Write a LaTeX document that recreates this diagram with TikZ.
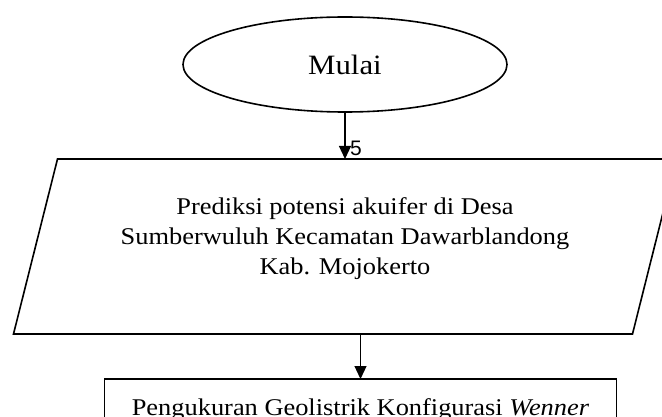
\documentclass[tikz,border=0pt]{standalone}
\usepackage{fontspec}
\setmainfont{Liberation Serif}[FakeStretch=1.1]
\newfontfamily\labelfont{Liberation Sans}
\usepackage{tikz}
\usetikzlibrary{shapes,arrows.meta,positioning,calc,shapes.geometric}

\begin{document}
\begin{tikzpicture}[x=1pt,y=-1pt,
        terminal/.style={draw, ellipse, line width=1.6pt, outer sep=0pt, inner sep=0pt,
              minimum width=324pt, minimum height=95pt, font=\fontsize{28}{34}\selectfont},
        inputbox/.style={rectangle, outer sep=0pt, minimum width=619pt, minimum height=175pt,
              align=center, text depth=20pt, font=\fontsize{24}{30}\selectfont},
        processbox/.style={draw, rectangle, line width=1.6pt, outer sep=0pt,
              minimum width=512pt, minimum height=61pt, font=\fontsize{24}{30}\selectfont},
        flow/.style={-{Triangle[length=13pt,width=12pt]}, line width=1.2pt}]
    \useasboundingbox (0,0) rectangle (662,417);
    \clip (0,0) rectangle (662,417);

    \node[terminal] (mulai) at (345,64.5) {Mulai};
    \node[inputbox, below=47pt of mulai] (prediksi) {
        Prediksi potensi akuifer di Desa\\
        Sumberwuluh Kecamatan Dawarblandong\\
        Kab. Mojokerto
    };
    % parallelogram round the input node
    \draw[line width=1.6pt] ([xshift=22pt]prediksi.north west) -- ([xshift=22pt]prediksi.north east)
        -- ([xshift=-22pt]prediksi.south east) -- ([xshift=-22pt]prediksi.south west) -- cycle;
    \node[processbox, below=45pt of prediksi, xshift=15.5pt] (pengukuran)
        {Pengukuran Geolistrik Konfigurasi \textit{Wenner}};

    \draw[flow] (mulai) -- (prediksi);
    \draw[flow] (prediksi.south -| pengukuran.north) -- (pengukuran.north);
    \node[inner sep=0pt, anchor=base west, font=\labelfont\fontsize{21}{21}\selectfont]
        (lima) at ([xshift=5pt,yshift=3pt]prediksi.north) {5};
\end{tikzpicture}
\end{document}
